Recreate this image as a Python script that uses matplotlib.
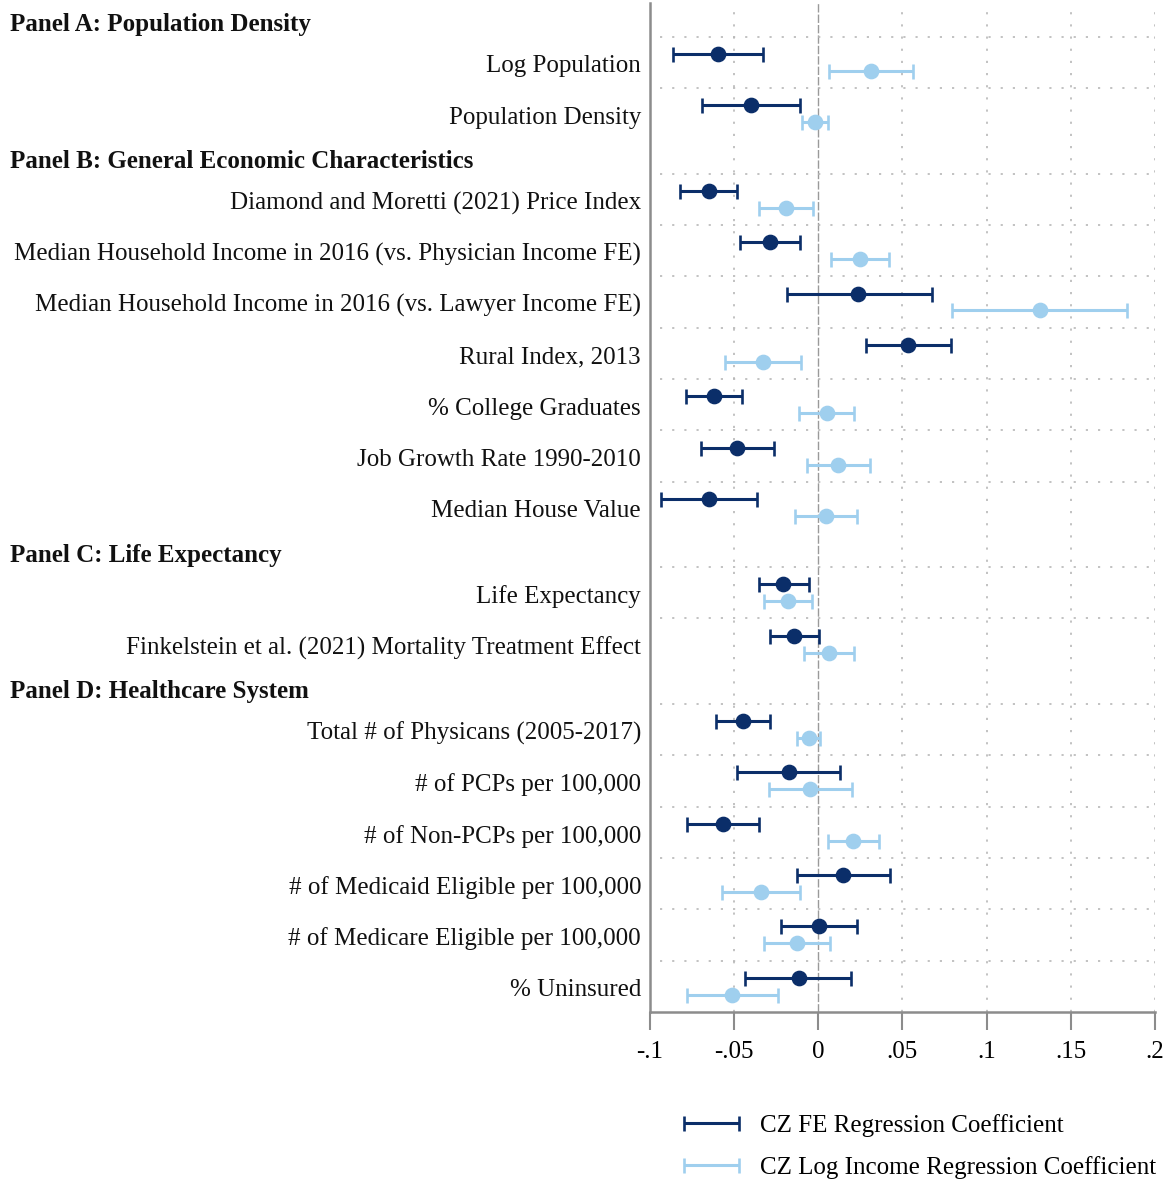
import matplotlib
matplotlib.use('Agg')
import matplotlib.pyplot as plt
import numpy as np
from matplotlib.container import ErrorbarContainer
from matplotlib.legend_handler import HandlerErrorbar
from matplotlib.transforms import blended_transform_factory

plt.rcParams['font.family'] = ['Liberation Serif', 'DejaVu Serif']

# ---------------- data ----------------
panels = ["Panel A: Population Density",
          "Panel B: General Economic Characteristics",
          "Panel C: Life Expectancy",
          "Panel D: Healthcare System"]
panel_sizes = [2, 7, 2, 6]

labels = ["Log Population",
          "Population Density",
          "Diamond and Moretti (2021) Price Index",
          "Median Household Income in 2016 (vs. Physician Income FE)",
          "Median Household Income in 2016 (vs. Lawyer Income FE)",
          "Rural Index, 2013",
          "% College Graduates",
          "Job Growth Rate 1990-2010",
          "Median House Value",
          "Life Expectancy",
          "Finkelstein et al. (2021) Mortality Treatment Effect",
          "Total # of Physicans (2005-2017)",
          "# of PCPs per 100,000",
          "# of Non-PCPs per 100,000",
          "# of Medicaid Eligible per 100,000",
          "# of Medicare Eligible per 100,000",
          "% Uninsured"]

fe_coef = [-0.0599, -0.0401, -0.0652, -0.0287, 0.0234, 0.0534, -0.0620, -0.0483, -0.0651,
           -0.0207, -0.0144, -0.0447, -0.0177, -0.0568, 0.0147, 0.0002, -0.0117]
fe_lo = [-0.0866, -0.0694, -0.0819, -0.0463, -0.0188, 0.0281, -0.0786, -0.0699, -0.0936,
         -0.0355, -0.0288, -0.0607, -0.0483, -0.0782, -0.0124, -0.0221, -0.0434]
fe_hi = [-0.0330, -0.0106, -0.0486, -0.0108, 0.0674, 0.0790, -0.0451, -0.0265, -0.0366,
         -0.0055, 0.0002, -0.0290, 0.0128, -0.0352, 0.0423, 0.0229, 0.0193]

li_coef = [0.0314, -0.0021, -0.0193, 0.0248, 0.1315, -0.0328, 0.0049, 0.0116, 0.0043,
           -0.0180, 0.0062, -0.0056, -0.0049, 0.0207, -0.0342, -0.0126, -0.0514]
li_lo = [0.0062, -0.0096, -0.0354, 0.0078, 0.0795, -0.0554, -0.0112, -0.0070, -0.0140,
         -0.0320, -0.0086, -0.0124, -0.0296, 0.0056, -0.0575, -0.0324, -0.0782]
li_hi = [0.0563, 0.0058, -0.0033, 0.0421, 0.1834, -0.0102, 0.0209, 0.0304, 0.0227,
         -0.0037, 0.0213, 0.0011, 0.0199, 0.0358, -0.0108, 0.0070, -0.0240]

xticks = [-0.1, -0.05, 0, 0.05, 0.1, 0.15, 0.2]
xticklabels = ["-.1", "-.05", "0", ".05", ".1", ".15", ".2"]

series_names = ["CZ FE Regression Coefficient", "CZ Log Income Regression Coefficient"]

# ---------------- style ----------------
DARK = '#0b2e69'
LIGHT = '#9fcfee'
GRID = '#b8b8b8'
AXC = '#8c8c8c'
FS = 18

W, H = 1170, 1185
fig = plt.figure(figsize=(W / 100, H / 100), dpi=100)
ax = fig.add_axes([650 / W, 1 - 1012 / H, 505 / W, 1009 / H])

HEADER = 0.66
TXT_SHIFT = 0.075
y = 0.0
centers, header_y, row_tops = [], [], []
for n in panel_sizes:
    header_y.append(y + HEADER / 2)
    y += HEADER
    for _ in range(n):
        row_tops.append(y)
        centers.append(y + 0.5)
        y += 1
total = y
c = np.array(centers)

ax.set_xlim(-0.1, 0.2)
ax.set_ylim(total, 0)

# grid
for xv in xticks[1:]:
    if xv == 0:
        ax.axvline(0, color='#9a9a9a', lw=1.0, ls=(0, (6, 1.5)), zorder=1)
    else:
        ax.axvline(xv, color=GRID, lw=1.2, ls=(0, (1.3, 6)), zorder=1)
for t in row_tops:
    ax.axhline(t, xmin=0.02, color=GRID, lw=1.2, ls=(0, (1.3, 6)), zorder=1)

off = 0.165
fe_c, fe_l, fe_h = map(np.array, (fe_coef, fe_lo, fe_hi))
li_c, li_l, li_h = map(np.array, (li_coef, li_lo, li_hi))

e1 = ax.errorbar(fe_c, c - off, xerr=[fe_c - fe_l, fe_h - fe_c], fmt='none', ecolor=DARK,
                 elinewidth=2.2, capsize=5.4, capthick=1.9, zorder=4, label=series_names[0])
ax.plot(fe_c, c - off, 'o', color=DARK, ms=10.3, zorder=5)
e2 = ax.errorbar(li_c, c + off, xerr=[li_c - li_l, li_h - li_c], fmt='none', ecolor=LIGHT,
                 elinewidth=2.2, capsize=5.4, capthick=1.9, zorder=4, label=series_names[1])
ax.plot(li_c, c + off, 'o', color=LIGHT, ms=10.3, zorder=5)

# axes styling
for s in ['top', 'right']:
    ax.spines[s].set_visible(False)
for s in ['left', 'bottom']:
    ax.spines[s].set_color(AXC)
    ax.spines[s].set_linewidth(1.8)
ax.set_yticks([])
ax.set_xticks(xticks)
ax.set_xticklabels(xticklabels, fontsize=FS)
ax.tick_params(axis='x', length=13, width=1.5, color=AXC, pad=8)

trans = blended_transform_factory(fig.transFigure, ax.transData)
for lab, yc in zip(labels, centers):
    ax.text(641 / W, yc + TXT_SHIFT, lab, transform=trans, ha='right', va='center',
            fontsize=FS, color='#111111', clip_on=False)
for p, yh in zip(panels, header_y):
    ax.text(10 / W, yh + TXT_SHIFT + 0.02, p, transform=trans, ha='left', va='center',
            fontsize=FS, fontweight='bold', color='#111111', clip_on=False)

fig.legend(handles=[e1, e2], labels=series_names, loc='upper left',
           bbox_to_anchor=(683 / W, 1 - 1114 / H), frameon=False, fontsize=FS,
           borderpad=0, borderaxespad=0, handlelength=2.24, handletextpad=0.84,
           labelspacing=0.76,
           handler_map={ErrorbarContainer: HandlerErrorbar(xerr_size=1.1)})

fig.savefig('out.png', dpi=100)
